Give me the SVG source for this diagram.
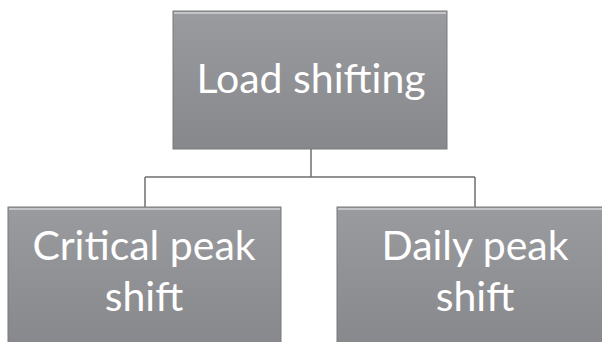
<svg xmlns="http://www.w3.org/2000/svg" width="602" height="342" viewBox="0 0 602 342">
<defs>
<linearGradient id="g" x1="0" y1="0" x2="0" y2="1">
<stop offset="0" stop-color="#9a9b9f"/>
<stop offset="1" stop-color="#87888b"/>
</linearGradient>
<style>
.box{fill:url(#g);stroke:#7a7b7e;stroke-width:1}
.hl{stroke:#c4c5c8;stroke-width:2;fill:none}
.t{font-family:Lato,"Open Sans",sans-serif;fill:#ffffff;text-anchor:middle;font-size:41px}
.c{stroke:#6e6f72;stroke-width:1.5;fill:none}
</style>
</defs>
<rect width="602" height="342" fill="#ffffff"/>
<g id="connectors">
<path class="c" d="M311 149 V177 M145 177 H475 M145 177 V207 M475 177 V207"/>
</g>
<g id="load-shifting">
<rect class="box" x="173" y="11" width="274" height="138"/>
<path class="hl" d="M174 13 H446"/>
<text class="t" x="311" y="93">Load shifting</text>
</g>
<g id="critical-peak-shift">
<rect class="box" x="8" y="207" width="273" height="140"/>
<path class="hl" d="M9 209 H280"/>
<text class="t" x="144" y="260">Critical peak</text>
<text class="t" x="144" y="311">shift</text>
</g>
<g id="daily-peak-shift">
<rect class="box" x="337" y="207" width="270" height="140"/>
<path class="hl" d="M338 209 H602"/>
<text class="t" x="475" y="260">Daily peak</text>
<text class="t" x="475" y="311">shift</text>
</g>
</svg>
